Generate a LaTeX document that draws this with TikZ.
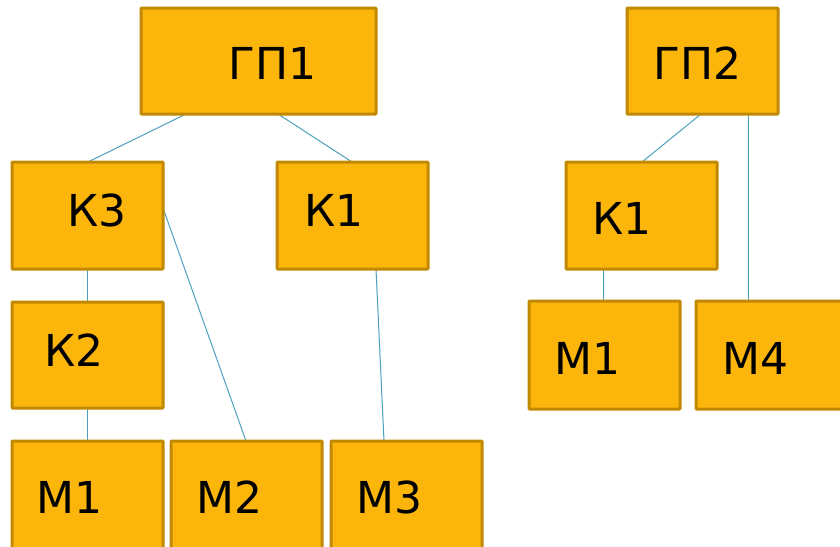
\documentclass[tikz,border=0pt]{standalone}
\usepackage{fontspec}
\setmainfont{DejaVu Sans}
\usetikzlibrary{backgrounds}
\definecolor{boxfill}{RGB}{252,182,11}
\definecolor{boxline}{RGB}{193,137,0}
\definecolor{link}{RGB}{75,160,190}
\begin{document}
\begin{tikzpicture}[x=1pt,y=-1pt,
  box/.style={draw=boxline, fill=boxfill, line width=3pt, rounded corners=0.8pt,
    rectangle, anchor=north west, inner sep=0pt, outer sep=0pt},
  txt/.style={anchor=base west, inner sep=0pt, font=\fontsize{44}{50}\selectfont, text=black},
  link/.style={draw=link, line width=1pt}]
\useasboundingbox (0,0) rectangle (840,546);
\clip (0,0) rectangle (840,546);
% boxes
\node[box, minimum width=235pt, minimum height=106pt] (gp1) at (141,8) {};
\node[box, minimum width=151pt, minimum height=107pt] (k3) at (12,162) {};
\node[box, minimum width=151pt, minimum height=107pt] (k1) at (277,162) {};
\node[box, minimum width=151pt, minimum height=106pt] (k2) at (12,302) {};
\node[box, minimum width=151pt, minimum height=130pt] (m1) at (12,441) {};
\node[box, minimum width=151pt, minimum height=130pt] (m2) at (171,441) {};
\node[box, minimum width=151pt, minimum height=130pt] (m3) at (331,441) {};
\node[box, minimum width=151pt, minimum height=106pt] (gp2) at (627,8) {};
\node[box, minimum width=151pt, minimum height=107pt] (k1r) at (566,162) {};
\node[box, minimum width=151pt, minimum height=108pt] (m1r) at (529,301) {};
\node[box, minimum width=160pt, minimum height=108pt] (m4) at (696,301) {};
% texts
\node[txt] (tgp1) at (228,79) {ГП1};
\node[txt] (tk3) at (67,226) {К3};
\node[txt] (tk1) at (304,226) {К1};
\node[txt] (tk2) at (44,366) {К2};
\node[txt] (tm1) at (36,513) {М1};
\node[txt] (tm2) at (196,513) {М2};
\node[txt] (tm3) at (356,513) {М3};
\node[txt] (tgp2) at (653,79) {ГП2};
\node[txt] (tk1r) at (592,234) {К1};
\node[txt] (tm1r) at (554,374) {М1};
\node[txt] (tm4) at (722,374) {М4};
% connectors
\begin{scope}[on background layer]
\draw[link] ([xshift=45pt]gp1.south west) -- ([xshift=76pt]k3.north west);
\draw[link] ([xshift=137pt]gp1.south west) -- ([xshift=75pt]k1.north west);
\draw[link] ([yshift=-46pt]k3.north east) -- ([xshift=75pt]m2.north west);
\draw[link] ([xshift=75pt]k3.south west) -- ([xshift=75pt]k2.north west);
\draw[link] ([xshift=75pt]k2.south west) -- ([xshift=75pt]m1.north west);
\draw[link] ([xshift=99pt]k1.south west) -- ([xshift=53pt]m3.north west);
\draw[link] ([xshift=74pt]gp2.south west) -- ([xshift=76pt]k1r.north west);
\draw[link] ([xshift=121pt]gp2.south west) -- ([xshift=52pt]m4.north west);
\draw[link] ([xshift=37pt]k1r.south west) -- ([xshift=74pt]m1r.north west);
\end{scope}
\end{tikzpicture}
\end{document}
